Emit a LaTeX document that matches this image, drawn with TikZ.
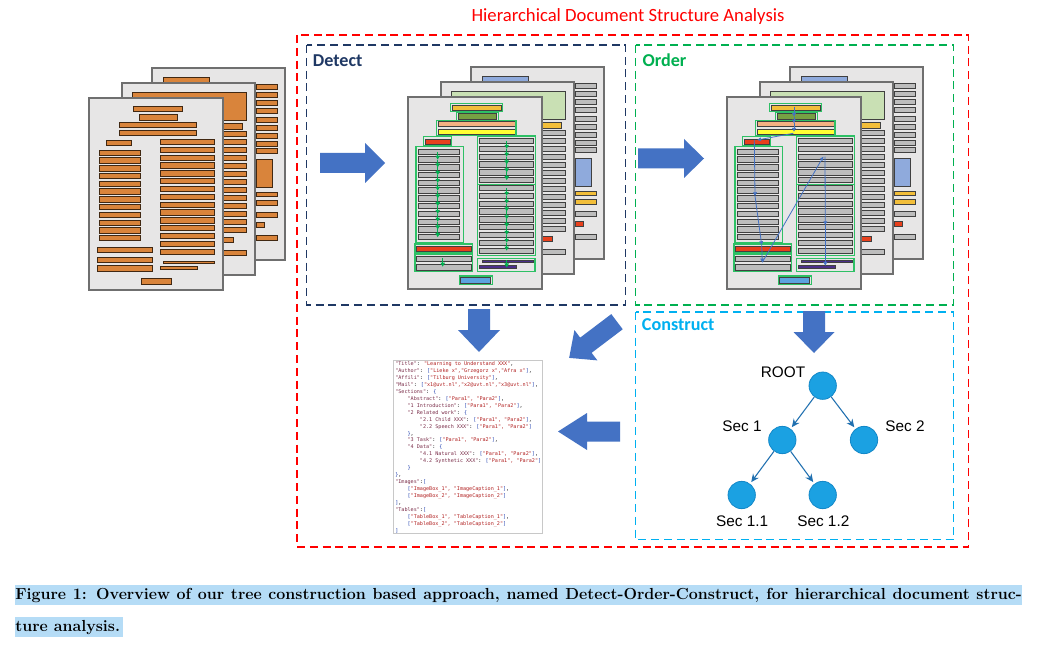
\documentclass[tikz,border=0pt]{standalone}
\usepackage{fontspec}
\usetikzlibrary{arrows.meta}
\newfontfamily\calibri{Carlito}
\newfontfamily\arialf{Liberation Sans}
\newfontfamily\jsonfont{DejaVu Sans Mono}
\definecolor{pagefill}{HTML}{E7E6E6}
\definecolor{pageborder}{HTML}{6F6F6F}
\definecolor{bargray}{HTML}{BDBDBD}
\definecolor{gold}{HTML}{F2BE3A}
\definecolor{olivebar}{HTML}{77A043}
\definecolor{salmon}{HTML}{F4B183}
\definecolor{brightyellow}{HTML}{FFFF33}
\definecolor{barred}{HTML}{E8401C}
\definecolor{purplebar}{HTML}{4B2F8A}
\definecolor{bluebar}{HTML}{5BA3E0}
\definecolor{lightbluebox}{HTML}{8FAADC}
\definecolor{lightgreenbox}{HTML}{C9E0B4}
\definecolor{boxgreen}{HTML}{2EC065}
\definecolor{orangebar}{HTML}{D9843B}
\definecolor{arrowblue}{HTML}{4472C4}
\definecolor{titlered}{HTML}{FF0000}
\definecolor{navy}{HTML}{1F3864}
\definecolor{ordergreen}{HTML}{00B050}
\definecolor{constructblue}{HTML}{00B0F0}
\definecolor{treeblue}{HTML}{1BA1E2}
\definecolor{treeborder}{HTML}{1488C8}
\definecolor{treeedge}{HTML}{2070B0}
\definecolor{hl}{HTML}{B5DCF6}
\definecolor{jkey}{HTML}{7B2E4A}
\definecolor{jval}{HTML}{B22222}
\definecolor{jbr}{HTML}{2040B0}
\definecolor{jsonborder}{HTML}{C8C8C8}

\newcommand\jk[1]{\textcolor{jkey}{#1}}
\newcommand\jv[1]{\textcolor{jval}{#1}}
\newcommand\jb[1]{\textcolor{jbr}{#1}}
\newcommand\jind{\hphantom{0000}}

\tikzset{
  page/.style={fill=pagefill, draw=pageborder, line width=0.8},
  bar/.style={draw=sBd, line width=0.45},
  gbox/.style={draw=boxgreen, line width=0.8},
  garrow/.style={draw=ordergreen, line width=0.6, -{Triangle[length=3pt,width=3.2pt]}},
  barrow/.style={draw=arrowblue, line width=0.6, -{Triangle[length=2.8pt,width=2.8pt]}},
  dbox/.style={line width=1.1, dash pattern=on 6pt off 3.6pt},
  tnode/.style={circle, fill=treeblue, draw=treeborder, line width=0.6, minimum size=20.5pt, inner sep=0},
  tedge/.style={draw=treeedge, line width=0.8, shorten >=1.5pt, -{Stealth[length=6pt,width=5.5pt]}},
  tlabel/.style={inner sep=0, anchor=base, font=\arialf\fontsize{11.5pt}{13pt}\selectfont},
  plabel/.style={inner sep=0, anchor=base west, font=\calibri\bfseries\fontsize{13.6pt}{15pt}\selectfont},
  captext/.style={anchor=base west, inner sep=0, font=\fontsize{12pt}{14pt}\selectfont\bfseries},
}

% block arrow: x y angle length shaftwidth headwidth headlength
\newcommand\blockarrow[7]{%
  \begin{scope}[shift={(#1,#2)},rotate=#3]
    \fill[arrowblue] (0,-#5/2) -- ({#4-#7},-#5/2) -- ({#4-#7},-#6/2) -- (#4,0)
      -- ({#4-#7},#6/2) -- ({#4-#7},#5/2) -- (0,#5/2) -- cycle;
  \end{scope}}

\newcommand\drawstack{%
  % back page
  \draw[page] (63,-30) rectangle (196,162);
  \draw[bar,fill=sBB] (74,-21) rectangle (120,-14);
  \foreach \t in {-13.7,-6,2.3,10.3,19.7,27.3,35.3,43,50.7}
    \draw[bar,fill=sG] (167,\t) rectangle (188,{\t+5});
  \draw[bar,fill=sBB] (167,61.3) rectangle (183.7,89.7);
  \draw[bar,fill=sY] (167,94) rectangle (188,98.7);
  \draw[bar,fill=sY] (167,102) rectangle (188,107);
  \draw[bar,fill=sG] (167,114) rectangle (188,119);
  \draw[bar,fill=sE] (167,124.7) rectangle (175.3,129.7);
  \draw[bar,fill=sG] (167,137) rectangle (188,142.3);
  % middle page
  \draw[page] (33,-15) rectangle (166,177);
  \draw[bar,fill=sMG] (43.7,-6) rectangle (157.7,22.3);
  \draw[bar,fill=sA] (100,25.7) rectangle (153,31.3);
  \foreach \k in {0,...,12}
    \draw[bar,fill=sG] (100,{33+8*\k}) rectangle (157.7,{38+8*\k});
  \draw[bar,fill=sE] (100,139.7) rectangle (144.7,144.7);
  \draw[bar,fill=sG] (100,152) rectangle (157.7,157);
  % front page
  \draw[page] (0,0) rectangle (134,192);
  \draw[bar,fill=sA] (44.3,8) rectangle (93.3,13);
  \draw[bar,fill=sB] (50.3,16.3) rectangle (88,22);
  \draw[bar,fill=sC] (30.3,24.7) rectangle (107,29.7);
  \draw[bar,fill=sD] (30.3,32) rectangle (107,37.3);
  \draw[bar,fill=sE] (17.7,42) rectangle (42,47);
  \foreach \k in {0,...,11}
    \draw[bar,fill=sG] (10.3,{52+7.76*\k}) rectangle (51,{57.3+7.76*\k});
  \foreach \k in {0,...,14}
    \draw[bar,fill=sG] (71.3,{41.3+7.83*\k}) rectangle (125.7,{46.6+7.83*\k});
  \draw[bar,fill=sE] (8.7,149) rectangle (63,154.3);
  \draw[bar,fill=sG] (8.7,159) rectangle (63,164.7);
  \draw[bar,fill=sG] (8.7,167) rectangle (63,173);
  \draw[bar,fill=sP] (74.3,163) rectangle (125.3,165.7);
  \draw[bar,fill=sP] (71,168.3) rectangle (108.7,171.3);
  \draw[bar,fill=sBl] (52.7,180.7) rectangle (82.7,186.3);
}

\newcommand\greenboxes{%
  \draw[gbox] (42.7,6.3) rectangle (94.7,14.3);
  \draw[gbox] (48.7,15.3) rectangle (90.7,23.7);
  \draw[gbox] (28.7,23.3) rectangle (108,38.7);
  \draw[gbox] (15.3,39.7) rectangle (43.7,48.7);
  \draw[gbox] (8,49.7) rectangle (55.3,145.3);
  \draw[gbox] (69.3,39) rectangle (127.3,87.3);
  \draw[gbox] (69.3,87.3) rectangle (127.3,158.7);
  \draw[gbox] (7,147) rectangle (64.7,156);
  \draw[gbox] (7,157) rectangle (64.7,174.7);
  \draw[gbox] (69.7,161.3) rectangle (127,174.7);
  \draw[gbox] (51.3,179) rectangle (84.3,187.3);
}

\newcommand\colorstack{%
  \colorlet{sBd}{black!75}\colorlet{sG}{bargray}\colorlet{sA}{gold}
  \colorlet{sB}{olivebar}\colorlet{sC}{salmon}\colorlet{sD}{brightyellow}
  \colorlet{sE}{barred}\colorlet{sP}{purplebar}\colorlet{sBl}{bluebar}
  \colorlet{sBB}{lightbluebox}\colorlet{sMG}{lightgreenbox}\colorlet{sY}{gold}}

\begin{document}
\begin{tikzpicture}[x=0.75pt,y=-0.75pt]
\useasboundingbox (0,0) rectangle (1038,652);
\fill[white] (0,0) rectangle (1038,652);

% ---------- title and dashed frames ----------
\node[inner sep=0, anchor=base, text=titlered, font=\calibri\fontsize{14pt}{16pt}\selectfont] (title) at (628,22) {Hierarchical Document Structure Analysis};
\draw[dbox, draw=titlered] (297,35) rectangle (968.5,547);
\draw[dbox, draw=navy] (306.7,45) rectangle (625.5,305);
\draw[dbox, draw=ordergreen] (635.5,45) rectangle (953.5,305);
\draw[dbox, draw=constructblue] (635.5,312) rectangle (953.5,539.5);
\node[plabel, text=navy] (detect) at (312.7,66.7) {Detect};
\node[plabel, text=ordergreen] (order) at (642.3,66.7) {Order};
\node[plabel, text=constructblue] (construct) at (641.7,330.7) {Construct};

% ---------- input document stack ----------
\begin{scope}[shift={(89,98)}]
  \colorlet{sBd}{black!70!orangebar}
  \colorlet{sG}{orangebar}\colorlet{sA}{orangebar}\colorlet{sB}{orangebar}
  \colorlet{sC}{orangebar}\colorlet{sD}{orangebar}\colorlet{sE}{orangebar}
  \colorlet{sP}{orangebar}\colorlet{sBl}{orangebar}\colorlet{sBB}{orangebar}
  \colorlet{sMG}{orangebar}\colorlet{sY}{orangebar}
  \drawstack
\end{scope}

% ---------- Detect stack ----------
\begin{scope}[shift={(408,97)}]
  \colorstack
  \drawstack
  \greenboxes
  \foreach \k in {0,...,10}
    \draw[garrow] (29.7,{54.85+7.76*\k}) -- (29.7,{54.85+7.76*(\k+1)});
  \foreach \k in {0,...,4}
    \draw[garrow] (98.7,{44+7.83*\k}) -- (98.7,{44+7.83*(\k+1)});
  \foreach \k in {6,...,13}
    \draw[garrow] (98.7,{44+7.83*\k}) -- (98.7,{44+7.83*(\k+1)});
  \draw[garrow] (34.7,161) -- (34.7,169.7);
  \draw[garrow] (98.7,163.5) -- (98.7,170.5);
\end{scope}

% ---------- Order stack ----------
\begin{scope}[shift={(727,97)}]
  \colorstack
  \drawstack
  \greenboxes
  \draw[barrow] (67,9.7) -- (67,19.7);
  \draw[barrow] (67,19.7) -- (67,26.3);
  \draw[barrow] (67,26.3) -- (67,34.7);
  \draw[barrow] (66.3,36.3) -- (30.3,43);
  \draw[barrow] (27.3,43) -- (28,99);
  \draw[barrow] (28,99) -- (34.7,148);
  \draw[barrow] (34.7,148) -- (35.3,165.3);
  \draw[barrow] (35.3,165.3) -- (96.3,59.7);
  \draw[barrow] (98,59.7) -- (98.3,128);
  \draw[barrow] (98.3,128) -- (98.3,168.7);
\end{scope}

% ---------- block arrows ----------
\blockarrow{320}{163}{0}{65}{20}{40}{20}
\blockarrow{638}{158.5}{0}{66}{20}{39}{20}
\blockarrow{479}{309}{-90}{43}{22}{42}{22}
\blockarrow{814}{311}{-90}{42}{22}{41}{21}
\blockarrow{620}{431.5}{180}{62}{20}{37}{29}
\blockarrow{617}{321.7}{217.1}{60}{19}{38}{21}

% ---------- JSON output ----------
\draw[draw=jsonborder, fill=white, line width=0.6] (393,360) rectangle (542,533);
\node[anchor=north west, inner sep=0, align=left, font=\jsonfont\fontsize{3.84pt}{5.2pt}\selectfont] (json) at (395,361.5) {%
\jk{"Title"}: \jv{"Learning to Understand XXX"},\\
\jk{"Author"}: \jb{[}\jv{"Lieke x","Grzegorz x","Afra x"}\jb{]},\\
\jk{"Affili"}: \jb{[}\jv{"Tilburg University"}\jb{]},\\
\jk{"Mail"}: \jb{[}\jv{"x1@uvt.nl","x2@uvt.nl","x3@uvt.nl"}\jb{]},\\
\jk{"Sections"}: \jb{\{}\\
\jind\jk{"Abstract"}: \jb{[}\jv{"Para1", "Para2"}\jb{]},\\
\jind\jk{"1 Introduction"}: \jb{[}\jv{"Para1", "Para2"}\jb{]},\\
\jind\jk{"2 Related work"}: \jb{\{}\\
\jind\jind\jk{"2.1 Child XXX"}: \jb{[}\jv{"Para1", "Para2"}\jb{]},\\
\jind\jind\jk{"2.2 Speech XXX"}: \jb{[}\jv{"Para1", "Para2"}\jb{]}\\
\jind\jb{\}},\\
\jind\jk{"3 Task"}: \jb{[}\jv{"Para1", "Para2"}\jb{]},\\
\jind\jk{"4 Data"}: \jb{\{}\\
\jind\jind\jk{"4.1 Natural XXX"}: \jb{[}\jv{"Para1", "Para2"}\jb{]},\\
\jind\jind\jk{"4.2 Synthetic XXX"}: \jb{[}\jv{"Para1", "Para2"}\jb{]}\\
\jind\jb{\}}\\
\jb{\}},\\
\jk{"Images"}:\jb{[}\\
\jind\jb{[}\jv{"ImageBox\_1", "ImageCaption\_1"}\jb{]},\\
\jind\jb{[}\jv{"ImageBox\_2", "ImageCaption\_2"}\jb{]}\\
\jb{]},\\
\jk{"Tables"}:\jb{[}\\
\jind\jb{[}\jv{"TableBox\_1", "TableCaption\_1"}\jb{]},\\
\jind\jb{[}\jv{"TableBox\_2", "TableCaption\_2"}\jb{]}\\
\jb{]}};

% ---------- tree ----------
\node[tnode] (root) at (822.7,385.7) {};
\node[tnode] (s1) at (782.3,440) {};
\node[tnode] (s2) at (864,440) {};
\node[tnode] (s11) at (741.7,495) {};
\node[tnode] (s12) at (822.7,495) {};
\draw[tedge] (root) -- (s1);
\draw[tedge] (root) -- (s2);
\draw[tedge] (s1) -- (s11);
\draw[tedge] (s1) -- (s12);
\node[tlabel] (lroot) at (783,377.3) {ROOT};
\node[tlabel] (ls1) at (742,431.7) {Sec 1};
\node[tlabel] (ls2) at (905,431.7) {Sec 2};
\node[tlabel] (ls11) at (742.2,526.7) {Sec 1.1};
\node[tlabel] (ls12) at (823.3,526.7) {Sec 1.2};

% ---------- caption ----------
\fill[hl] (15,585) rectangle (1022,605);
\fill[hl] (15,617) rectangle (123,637);
\node[captext] (cap1) at (15,599.5)
  {\makebox[755pt][s]{Figure 1: Overview of our tree construction based approach, named Detect-Order-Construct, for hierarchical document struc-}};
\node[captext] (cap2) at (15,631.5) {ture analysis.};
\end{tikzpicture}
\end{document}
